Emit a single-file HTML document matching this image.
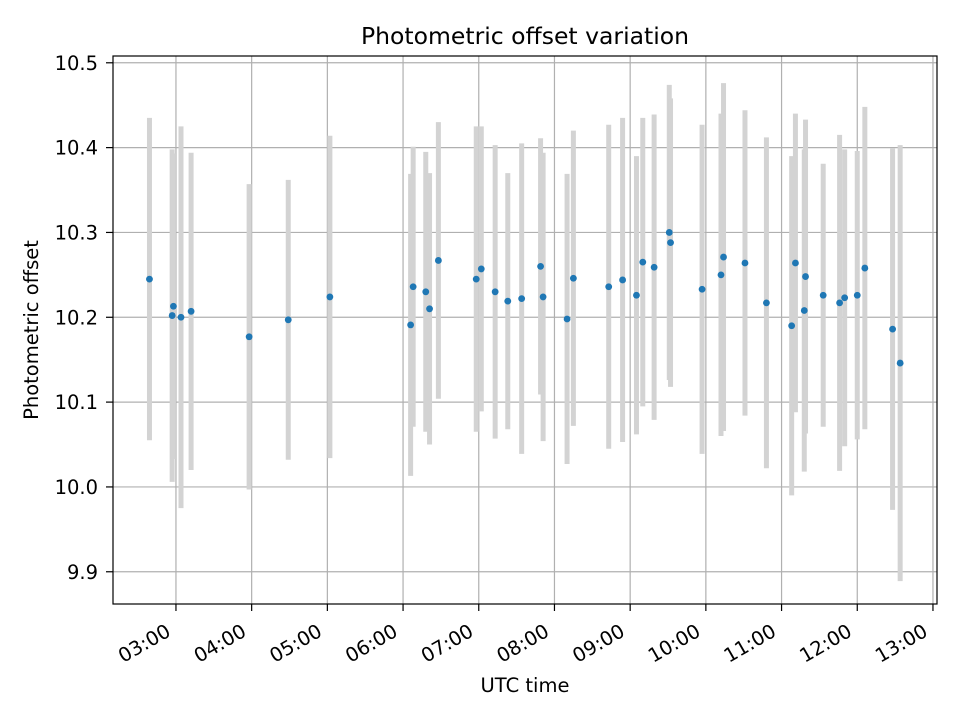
<!DOCTYPE html>
<html><head><meta charset="utf-8"><title>Photometric offset variation</title>
<style>body{margin:0;background:#fff}svg{display:block;font-family:"DejaVu Sans","Liberation Sans",sans-serif}</style>
</head><body>
<svg id="chart" width="960" height="720" xmlns="http://www.w3.org/2000/svg"></svg>
<script>
const times = ["02:39","02:57","02:58","03:04","03:12","03:58","04:29","05:02","06:06","06:08","06:18","06:21","06:28","06:58","07:02","07:13","07:23","07:34","07:49","07:51","08:10","08:15","08:43","08:54","09:05","09:10","09:19","09:31","09:32","09:57","10:12","10:14","10:31","10:48","11:08","11:11","11:18","11:19","11:33","11:46","11:50","12:00","12:06","12:28","12:34"];
const offsets = [10.245,10.202,10.213,10.200,10.207,10.177,10.197,10.224,10.191,10.236,10.230,10.210,10.267,10.245,10.257,10.230,10.219,10.222,10.260,10.224,10.198,10.246,10.236,10.244,10.226,10.265,10.259,10.300,10.288,10.233,10.250,10.271,10.264,10.217,10.190,10.264,10.208,10.248,10.226,10.217,10.223,10.226,10.258,10.186,10.146];
const errors = [0.19,0.196,0.18,0.225,0.187,0.18,0.165,0.19,0.178,0.165,0.165,0.16,0.163,0.18,0.168,0.173,0.151,0.183,0.151,0.17,0.171,0.174,0.191,0.191,0.164,0.17,0.18,0.174,0.17,0.194,0.19,0.205,0.18,0.195,0.2,0.176,0.19,0.185,0.155,0.198,0.175,0.17,0.19,0.213,0.257];
const yTicks = [9.9,10.0,10.1,10.2,10.3,10.4,10.5];
const xTickLabels = ["03:00","04:00","05:00","06:00","07:00","08:00","09:00","10:00","11:00","12:00","13:00"];

const NS="http://www.w3.org/2000/svg";
const svg=document.getElementById('chart');
const L=113,R=937,T=56,B=604;
const xMin=130.1,xMax=783.2,yMin=9.862,yMax=10.508;
function toMin(s){const p=s.split(':');return +p[0]*60+ +p[1];}
function xs(m){return L+(m-xMin)/(xMax-xMin)*(R-L);}
function ys(v){return B-(v-yMin)/(yMax-yMin)*(B-T);}
function mk(tag,attrs,parent){const e=document.createElementNS(NS,tag);for(const k in attrs)e.setAttribute(k,attrs[k]);(parent||svg).appendChild(e);return e;}

const grid=mk('g',{});


const axes=mk('g',{});


yTicks.forEach(v=>{
  const y=ys(v);
  mk('line',{x1:L,x2:R,y1:y,y2:y,stroke:'#b0b0b0','stroke-width':1.2},grid);
  mk('line',{x1:L-7,x2:L,y1:y,y2:y,stroke:'#000','stroke-width':1.2},axes);
  const t=mk('text',{x:L-15,y:y+7,'text-anchor':'end','font-size':19.5},axes);
  t.textContent=v.toFixed(1);
  
  
});
xTickLabels.forEach(s=>{
  const x=xs(toMin(s));
  mk('line',{x1:x,x2:x,y1:T,y2:B,stroke:'#b0b0b0','stroke-width':1.2},grid);
  mk('line',{x1:x,x2:x,y1:B,y2:B+7,stroke:'#000','stroke-width':1.2},axes);
  const ax=x-4, ay=B+31;
  const t=mk('text',{x:ax,y:ay,'text-anchor':'end','font-size':19.5,transform:`rotate(-30 ${ax} ${ay})`},axes);
  t.textContent=s;
  
  
});
const bars=mk('g',{});


times.forEach((s,i)=>{
  const x=xs(toMin(s));
  const l=mk('line',{x1:x,x2:x,y1:ys(offsets[i]+errors[i]),y2:ys(offsets[i]-errors[i]),stroke:'#d3d3d3','stroke-width':5},bars);
  
  
});
const pts=mk('g',{});


times.forEach((s,i)=>{
  const c=mk('circle',{cx:xs(toMin(s)),cy:ys(offsets[i]),r:3.4,fill:'#1f77b4'},pts);
  
  
});
const frame=mk('rect',{x:L,y:T,width:R-L,height:B-T,fill:'none',stroke:'#000','stroke-width':1.2});


const title=mk('text',{x:(L+R)/2,y:44,'text-anchor':'middle','font-size':23.5});
title.textContent='Photometric offset variation';


const xt=mk('text',{x:(L+R)/2,y:692,'text-anchor':'middle','font-size':19.5});
xt.textContent='UTC time';


const yt=mk('text',{x:38,y:330,'text-anchor':'middle','font-size':19.5,transform:'rotate(-90 38 330)'});
yt.textContent='Photometric offset';


</script>
</body></html>
